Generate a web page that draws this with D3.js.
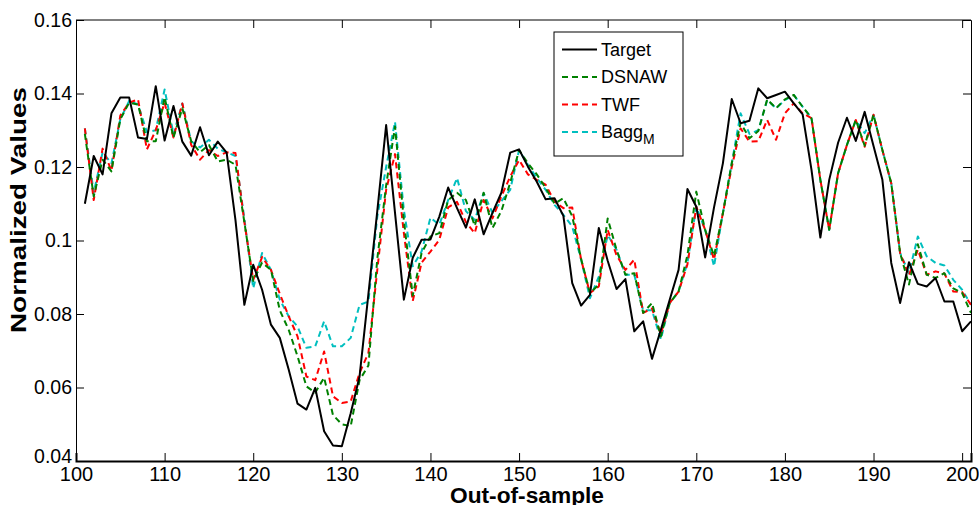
<!DOCTYPE html>
<html>
<head>
<meta charset="utf-8">
<script src="https://cdn.jsdelivr.net/npm/d3@7"></script>
<style>
  body { margin: 0; background: #fff; }
  text { font-family: "Liberation Sans", Arial, sans-serif; fill: #000; }
</style>
</head>
<body>
<svg width="979" height="505"></svg>
<script>
// out-of-sample index 101..201
var samples = d3.range(101, 202);

var target = [0.110, 0.123, 0.118, 0.1346, 0.1389, 0.1389, 0.128, 0.1276, 0.142, 0.1272,
  0.1366, 0.1269, 0.1231, 0.1308, 0.1232, 0.1269, 0.1239, 0.1055, 0.0825, 0.0934,
  0.0866, 0.0771, 0.0735, 0.0649, 0.0556, 0.054, 0.0599, 0.0481, 0.0442, 0.044,
  0.053, 0.063, 0.0855, 0.108, 0.1314, 0.1075, 0.0839, 0.0953, 0.1002, 0.1003,
  0.1065, 0.1144, 0.1088, 0.1035, 0.1112, 0.1017, 0.1075, 0.113, 0.1239, 0.1248,
  0.1201, 0.116, 0.1112, 0.1115, 0.1067, 0.0884, 0.0823, 0.0852, 0.1034, 0.0945,
  0.0868, 0.0895, 0.0753, 0.078, 0.0678, 0.0757, 0.0839, 0.092, 0.114, 0.1092,
  0.0954, 0.109, 0.121, 0.1385, 0.1319, 0.1326, 0.1414, 0.1387, 0.1396, 0.1405,
  0.1373, 0.1343, 0.1192, 0.1008, 0.1165, 0.1266, 0.1334, 0.1271, 0.135, 0.1257,
  0.1165, 0.0939, 0.083, 0.0941, 0.0882, 0.0875, 0.0898, 0.0834, 0.0834, 0.0753, 0.078];

var dsnaw = [0.129, 0.112, 0.122, 0.1188, 0.133, 0.1375, 0.137, 0.127, 0.127, 0.139,
  0.128, 0.136, 0.127, 0.124, 0.126, 0.1215, 0.122, 0.1206, 0.105, 0.089,
  0.094, 0.092, 0.081, 0.0757, 0.0685, 0.0603, 0.0586, 0.0627, 0.0525, 0.050,
  0.0495, 0.062, 0.066, 0.095, 0.115, 0.131, 0.1055, 0.085, 0.0966, 0.1011,
  0.102, 0.111, 0.113, 0.111, 0.104, 0.113, 0.1034, 0.108, 0.1157, 0.1246,
  0.121, 0.118, 0.1143, 0.110, 0.1115, 0.1066, 0.095, 0.0857, 0.088, 0.106,
  0.0975, 0.0907, 0.0911, 0.0803, 0.083, 0.0739, 0.083, 0.0861, 0.096, 0.1133,
  0.1029, 0.0958, 0.1074, 0.121, 0.132, 0.1278, 0.1298, 0.1384, 0.136, 0.1384,
  0.1396, 0.1364, 0.1333, 0.1165, 0.1029, 0.1183, 0.126, 0.1328, 0.1258, 0.1342,
  0.1246, 0.1156, 0.0966, 0.088, 0.099, 0.0907, 0.0898, 0.0911, 0.087, 0.0857, 0.0803];

var twf = [0.1305, 0.111, 0.125, 0.119, 0.134, 0.1375, 0.1384, 0.1248, 0.130, 0.1375,
  0.128, 0.1373, 0.126, 0.122, 0.1246, 0.123, 0.124, 0.1238, 0.105, 0.0893,
  0.0955, 0.092, 0.0855, 0.0794, 0.0739, 0.063, 0.062, 0.0698, 0.0576, 0.0558,
  0.0562, 0.064, 0.0694, 0.092, 0.1138, 0.1235, 0.102, 0.0835, 0.094, 0.097,
  0.1002, 0.109, 0.1105, 0.105, 0.102, 0.111, 0.106, 0.112, 0.1174, 0.1219,
  0.118, 0.1165, 0.1152, 0.1106, 0.1088, 0.109, 0.0948, 0.0857, 0.0875, 0.1029,
  0.096, 0.092, 0.0948, 0.0803, 0.0815, 0.0745, 0.083, 0.0861, 0.0935, 0.1092,
  0.1029, 0.0948, 0.1074, 0.120, 0.1305, 0.1269, 0.127, 0.1328, 0.1274, 0.1346,
  0.1373, 0.1346, 0.1333, 0.1165, 0.1029, 0.1183, 0.126, 0.1328, 0.1255, 0.1342,
  0.1246, 0.1156, 0.0966, 0.0905, 0.0975, 0.0907, 0.0916, 0.091, 0.0861, 0.086, 0.0825];

var baggM = [0.1305, 0.113, 0.124, 0.121, 0.133, 0.138, 0.137, 0.1295, 0.130, 0.1411,
  0.129, 0.1373, 0.127, 0.1253, 0.1274, 0.125, 0.124, 0.123, 0.106, 0.087,
  0.0966, 0.092, 0.0839, 0.0794, 0.0766, 0.0708, 0.0712, 0.078, 0.0712, 0.0712,
  0.0735, 0.0825, 0.0834, 0.1065, 0.120, 0.1323, 0.1083, 0.093, 0.097, 0.1062,
  0.1043, 0.111, 0.117, 0.108, 0.1056, 0.1129, 0.1075, 0.1107, 0.1138, 0.1246,
  0.1206, 0.117, 0.1138, 0.1097, 0.107, 0.1038, 0.0948, 0.0843, 0.0902, 0.1015,
  0.0975, 0.0907, 0.0907, 0.081, 0.081, 0.0731, 0.083, 0.0861, 0.0939, 0.1092,
  0.1029, 0.093, 0.1074, 0.121, 0.1346, 0.129, 0.130, 0.1382, 0.136, 0.1382,
  0.1396, 0.1364, 0.1333, 0.1165, 0.1029, 0.1183, 0.126, 0.1328, 0.1292, 0.1342,
  0.1246, 0.1156, 0.0966, 0.0911, 0.1011, 0.0957, 0.0939, 0.0932, 0.0893, 0.0866, 0.0825];

var xTicks = [100, 110, 120, 130, 140, 150, 160, 170, 180, 190, 200];
var yTicks = [0.04, 0.06, 0.08, 0.1, 0.12, 0.14, 0.16];

var series = [
  {name: "Target", values: target, color: "#000000", dash: null},
  {name: "DSNAW", values: dsnaw, color: "#008000", dash: "6,4"},
  {name: "TWF", values: twf, color: "#ff0000", dash: "6,4"},
  {name: "Bagg", sub: "M", values: baggM, color: "#00bfbf", dash: "6,4"}
];

var svg = d3.select("svg"),
    margin = {left: 76, right: 8, top: 20, bottom: 44},
    width = +svg.attr("width") - margin.left - margin.right,
    height = +svg.attr("height") - margin.top - margin.bottom;

var x = d3.scaleLinear().domain([100, 201]).range([margin.left, margin.left + width]);
var y = d3.scaleLinear().domain([0.04, 0.16]).range([margin.top + height, margin.top]);

svg.append("clipPath").attr("id", "plot")
  .append("rect")
    .attr("x", x.range()[0]).attr("y", y.range()[1])
    .attr("width", width).attr("height", height);

// lines, forecasts first so target sits on top
var line = d3.line()
    .x(function(d, i) { return x(samples[i]); })
    .y(function(d) { return y(d); });

svg.append("g").attr("clip-path", "url(#plot)")
  .selectAll("path")
  .data(series.slice().reverse())
  .enter().append("path")
    .attr("fill", "none")
    .attr("stroke", function(d) { return d.color; })
    .attr("stroke-width", 2)
    .attr("stroke-dasharray", function(d) { return d.dash; })
    .attr("stroke-linejoin", "round")
    .attr("d", function(d) { return line(d.values); });

// axes: ticks inside, on all four sides (box on)
var tickLen = 8;
svg.append("g")
    .attr("transform", "translate(0," + y.range()[0] + ")")
    .call(d3.axisBottom(x).tickValues(xTicks).tickSize(-tickLen).tickPadding(6).tickFormat(d3.format("d")))
    .call(function(g) {
      g.select(".domain").attr("stroke-width", 2);
      g.selectAll("text").attr("font-size", 20);
    });

svg.append("g")
    .attr("transform", "translate(0," + y.range()[1] + ")")
    .call(d3.axisTop(x).tickValues(xTicks).tickSize(-tickLen).tickFormat(""))
    .call(function(g) { g.select(".domain").remove(); });

svg.append("g")
    .attr("transform", "translate(" + x.range()[0] + ",0)")
    .call(d3.axisLeft(y).tickValues(yTicks).tickSize(-tickLen).tickPadding(4)
      .tickFormat(function(d) { return d3.format("")(+d.toFixed(2)); }))
    .call(function(g) {
      g.selectAll("text").attr("font-size", 19.5);
      g.selectAll(".tick").filter(function(d) { return d === 0.04; })
        .select("text").attr("dy", "0.1em");
    });

svg.append("g")
    .attr("transform", "translate(" + x.range()[1] + ",0)")
    .call(d3.axisRight(y).tickValues(yTicks).tickSize(-tickLen).tickFormat(""));

svg.append("line")
    .attr("x1", x.range()[0]).attr("x2", x.range()[1])
    .attr("y1", y.range()[1]).attr("y2", y.range()[1])
    .attr("stroke", "#000");

svg.selectAll(".tick line").attr("stroke", "#000");

// axis titles
svg.append("text")
    .attr("x", 527)
    .attr("y", 503)
    .attr("text-anchor", "middle")
    .attr("font-size", 22)
    .attr("font-weight", "bold")
    .attr("textLength", 154)
    .attr("lengthAdjust", "spacingAndGlyphs")
    .text("Out-of-sample");

svg.append("text")
    .attr("transform", "translate(26,210) rotate(-90)")
    .attr("text-anchor", "middle")
    .attr("font-size", 22)
    .attr("font-weight", "bold")
    .attr("textLength", 246)
    .attr("lengthAdjust", "spacingAndGlyphs")
    .text("Normalized Values");

// legend
var legend = svg.append("g").attr("transform", "translate(554,32)");
legend.append("rect")
    .attr("width", 129).attr("height", 124)
    .attr("fill", "#fff").attr("stroke", "#000");

var item = legend.selectAll(".item")
  .data(series)
  .enter().append("g")
    .attr("class", "item")
    .attr("transform", function(d, i) { return "translate(0," + (17.5 + i * 27.5) + ")"; });

item.append("line")
    .attr("x1", 8).attr("x2", 43)
    .attr("stroke", function(d) { return d.color; })
    .attr("stroke-width", 2)
    .attr("stroke-dasharray", function(d) { return d.dash; });

var label = item.append("text")
    .attr("x", 47)
    .attr("dy", "0.35em")
    .attr("font-size", 18)
    .text(function(d) { return d.name; });

label.filter(function(d) { return d.sub; })
  .append("tspan")
    .attr("font-size", 14)
    .attr("dy", 6)
    .text(function(d) { return d.sub; });
</script>
</body>
</html>
